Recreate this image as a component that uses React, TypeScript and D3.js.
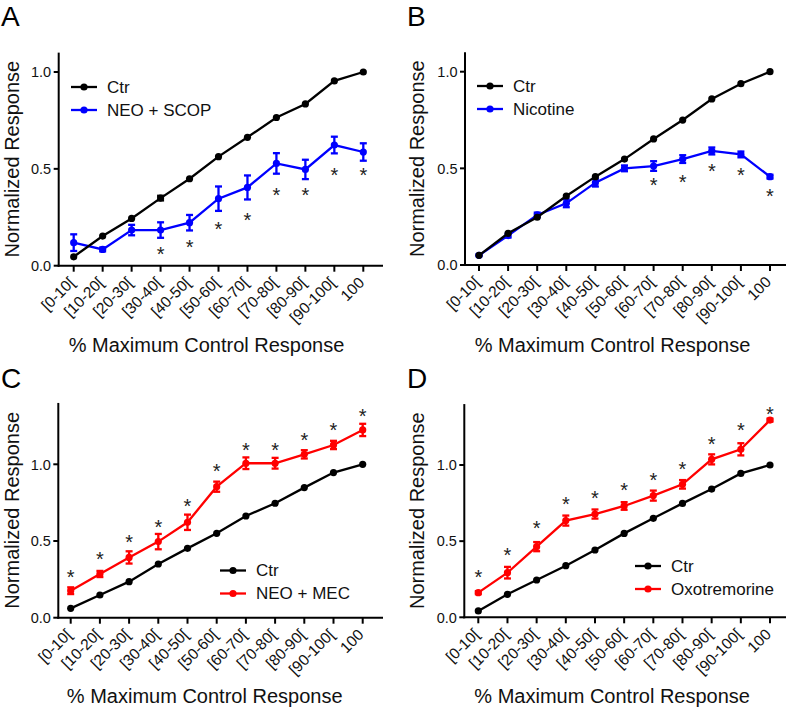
import React from "react";
import * as d3 from "d3";

const categories = ["[0-10[", "[10-20[", "[20-30[", "[30-40[", "[40-50[", "[50-60[", "[60-70[", "[70-80[", "[80-90[", "[90-100[", "100"];
const yTicks = [0, 0.5, 1.0];

const ctrA = [0.046, 0.153, 0.244, 0.349, 0.449, 0.563, 0.663, 0.765, 0.835, 0.954, 1.0];
const ctrAErr = [0, 0, 0, 0.012, 0, 0, 0, 0, 0, 0, 0];
const scopA = [0.119, 0.084, 0.184, 0.184, 0.222, 0.346, 0.404, 0.528, 0.497, 0.623, 0.587];
const scopAErr = [0.043, 0.01, 0.027, 0.04, 0.04, 0.063, 0.062, 0.053, 0.05, 0.043, 0.045];
const starsA = [null, null, null, 0.09, 0.124, 0.219, 0.262, 0.391, 0.391, 0.494, 0.494];

const ctrB = [0.05, 0.164, 0.247, 0.357, 0.457, 0.548, 0.652, 0.75, 0.859, 0.938, 1.0];
const ctrBErr = [0, 0, 0, 0, 0, 0, 0, 0, 0, 0, 0];
const nicB = [0.05, 0.152, 0.259, 0.319, 0.426, 0.5, 0.512, 0.548, 0.59, 0.572, 0.457];
const nicBErr = [0.005, 0.01, 0.012, 0.02, 0.02, 0.015, 0.025, 0.02, 0.018, 0.015, 0.01];
const starsB = [null, null, null, null, null, null, 0.44, 0.457, 0.514, 0.495, 0.384];

const ctrC = [0.061, 0.148, 0.235, 0.35, 0.452, 0.55, 0.663, 0.746, 0.848, 0.946, 1.0];
const ctrCErr = [0, 0, 0, 0, 0, 0, 0, 0, 0, 0, 0];
const mecC = [0.176, 0.285, 0.393, 0.496, 0.622, 0.854, 1.007, 1.007, 1.065, 1.126, 1.224];
const mecCErr = [0.022, 0.02, 0.04, 0.05, 0.05, 0.033, 0.038, 0.035, 0.027, 0.027, 0.04];
const starsC = [0.3, 0.42, 0.528, 0.626, 0.763, 0.989, 1.126, 1.126, 1.191, 1.257, 1.348];

const ctrD = [0.042, 0.151, 0.245, 0.339, 0.442, 0.551, 0.65, 0.748, 0.842, 0.945, 1.0];
const ctrDErr = [0, 0, 0, 0, 0, 0, 0, 0, 0, 0, 0];
const oxoD = [0.162, 0.293, 0.464, 0.635, 0.678, 0.731, 0.799, 0.873, 1.037, 1.103, 1.295];
const oxoDErr = [0.01, 0.038, 0.03, 0.033, 0.03, 0.025, 0.033, 0.028, 0.033, 0.04, 0.01];
const starsD = [0.3, 0.442, 0.621, 0.781, 0.818, 0.873, 0.939, 1.011, 1.175, 1.267, 1.37];

const FONT = "'Liberation Sans', Arial, sans-serif";
const BLUE = "#0000ff";
const RED = "#ff0000";

type PanelProps = {
  letter: string;
  letterX: number;
  letterY: number;
  axisX: number;
  y0: number;
  y1: number;
  yMax: number;
  xFirst: number;
  xLast: number;
  xEnd: number;
  titleY: number;
  yTitleX: number;
  ctr: number[];
  ctrErr: number[];
  trt: number[];
  trtErr: number[];
  stars: (number | null)[];
  trtName: string;
  color: string;
  legX: number;
  legY: number;
};

function Panel(p: PanelProps) {
  const y = d3.scaleLinear().domain([0, 1]).range([p.y0, p.y1]);
  const x = d3.scalePoint<string>().domain(categories).range([p.xFirst, p.xLast]);
  const line = d3
    .line<number>()
    .x((_, i) => x(categories[i]) as number)
    .y((d) => y(d));
  const yTop = y(p.yMax);
  const titleCx = (p.xFirst + p.xLast) / 2 - 12;

  const series = (vals: number[], errs: number[], color: string, key: string) => (
    <g key={key}>
      <path d={line(vals) || ""} fill="none" stroke={color} strokeWidth={2.3} />
      {vals.map((v, i) => {
        const cx = x(categories[i]) as number;
        const e = errs[i];
        return (
          <g key={i}>
            {e > 0 && (
              <g stroke={color} strokeWidth={2.3}>
                <line x1={cx} x2={cx} y1={y(v - e)} y2={y(v + e)} />
                <line x1={cx - 3.5} x2={cx + 3.5} y1={y(v - e)} y2={y(v - e)} />
                <line x1={cx - 3.5} x2={cx + 3.5} y1={y(v + e)} y2={y(v + e)} />
              </g>
            )}
            <circle cx={cx} cy={y(v)} r={3.6} fill={color} />
          </g>
        );
      })}
    </g>
  );

  const legendItem = (name: string, color: string, dy: number) => (
    <g key={name} transform={`translate(${p.legX},${p.legY + dy})`}>
      <line x1={0} x2={26} y1={0} y2={0} stroke={color} strokeWidth={2.3} />
      <circle cx={13} cy={0} r={3.6} fill={color} />
      <text x={36} y={0} dy="0.35em" fontSize={17} fontFamily={FONT} fill="#111">
        {name}
      </text>
    </g>
  );

  return (
    <g>
      <text x={p.letterX} y={p.letterY} fontSize={28} fontFamily={FONT} fill="#000">
        {p.letter}
      </text>
      {/* y axis */}
      <line x1={p.axisX} x2={p.axisX} y1={yTop} y2={p.y0 + 1} stroke="#000" strokeWidth={2} />
      {yTicks.map((t) => (
        <g key={t}>
          <line x1={p.axisX - 5} x2={p.axisX} y1={y(t)} y2={y(t)} stroke="#000" strokeWidth={2} />
          <text
            x={p.axisX - 7.5}
            y={y(t)}
            dy="0.36em"
            textAnchor="end"
            fontSize={14.5}
            fontFamily={FONT}
            fill="#111"
          >
            {d3.format(".1f")(t)}
          </text>
        </g>
      ))}
      <text
        transform={`translate(${p.yTitleX},${(yTop + p.y0) / 2}) rotate(-90)`}
        textAnchor="middle"
        fontSize={20}
        fontFamily={FONT}
        fill="#111"
      >
        Normalized Response
      </text>
      {/* x axis */}
      <line x1={p.axisX - 1} x2={p.xEnd} y1={p.y0} y2={p.y0} stroke="#000" strokeWidth={2} />
      {categories.map((c) => {
        const cx = x(c) as number;
        return (
          <g key={c}>
            <line x1={cx} x2={cx} y1={p.y0} y2={p.y0 + 6} stroke="#000" strokeWidth={2} />
            <text
              transform={`translate(${cx + 2},${p.y0 + 18}) rotate(-45)`}
              textAnchor="end"
              fontSize={15.5}
              fontFamily={FONT}
              fill="#111"
            >
              {c}
            </text>
          </g>
        );
      })}
      <text x={titleCx} y={p.titleY} textAnchor="middle" fontSize={20} fontFamily={FONT} fill="#111">
        % Maximum Control Response
      </text>
      {series(p.trt, p.trtErr, p.color, "trt")}
      {series(p.ctr, p.ctrErr, "#000", "ctr")}
      {p.stars.map((s, i) =>
        s === null ? null : (
          <text
            key={i}
            x={x(categories[i]) as number}
            y={y(s)}
            dy="0.62em"
            textAnchor="middle"
            fontSize={20}
            fontFamily={FONT}
            fill="#222"
          >
            *
          </text>
        )
      )}
      {legendItem("Ctr", "#000", 0)}
      {legendItem(p.trtName, p.color, 23)}
    </g>
  );
}

export default function App() {
  return (
    <svg
      width={787}
      height={712}
      style={{ position: "absolute", left: 0, top: 0, background: "#fff" }}
    >
      <rect width={787} height={712} fill="#fff" />
      <Panel
        letter="A"
        letterX={1}
        letterY={26}
        axisX={58.7}
        y0={265.7}
        y1={72}
        yMax={1.1}
        xFirst={73.7}
        xLast={363.3}
        xEnd={383}
        titleY={352}
        yTitleX={18.5}
        ctr={ctrA}
        ctrErr={ctrAErr}
        trt={scopA}
        trtErr={scopAErr}
        stars={starsA}
        trtName="NEO + SCOP"
        color={BLUE}
        legX={71}
        legY={87}
      />
      <Panel
        letter="B"
        letterX={407}
        letterY={26}
        axisX={465}
        y0={265}
        y1={71.7}
        yMax={1.1}
        xFirst={479}
        xLast={770}
        xEnd={786}
        titleY={352}
        yTitleX={423.5}
        ctr={ctrB}
        ctrErr={ctrBErr}
        trt={nicB}
        trtErr={nicBErr}
        stars={starsB}
        trtName="Nicotine"
        color={BLUE}
        legX={477}
        legY={86}
      />
      <Panel
        letter="C"
        letterX={1}
        letterY={388}
        axisX={58.3}
        y0={617.7}
        y1={464.3}
        yMax={1.4}
        xFirst={70.7}
        xLast={362.7}
        xEnd={383}
        titleY={703}
        yTitleX={18.5}
        ctr={ctrC}
        ctrErr={ctrCErr}
        trt={mecC}
        trtErr={mecCErr}
        stars={starsC}
        trtName="NEO + MEC"
        color={RED}
        legX={220}
        legY={570.5}
      />
      <Panel
        letter="D"
        letterX={407}
        letterY={388}
        axisX={464.3}
        y0={617.3}
        y1={465}
        yMax={1.4}
        xFirst={478.3}
        xLast={770}
        xEnd={786}
        titleY={703}
        yTitleX={423.5}
        ctr={ctrD}
        ctrErr={ctrDErr}
        trt={oxoD}
        trtErr={oxoDErr}
        stars={starsD}
        trtName="Oxotremorine"
        color={RED}
        legX={635}
        legY={566}
      />
    </svg>
  );
}
